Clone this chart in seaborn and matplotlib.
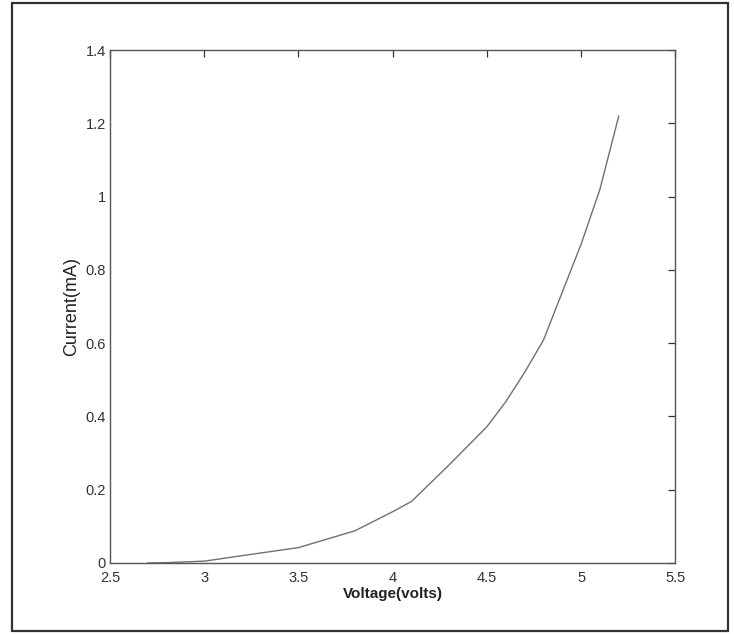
import matplotlib
matplotlib.use('Agg')
import matplotlib.pyplot as plt
import seaborn as sns
import pandas as pd
from matplotlib.patches import Rectangle

# Values
voltage = [2.7, 2.8, 3.0, 3.2, 3.5, 3.8, 4.0, 4.1, 4.3, 4.5, 4.6, 4.7, 4.8, 5.0, 5.1, 5.2]
current = [0.0, 0.001, 0.005, 0.02, 0.042, 0.088, 0.14, 0.168, 0.268, 0.372,
           0.44, 0.52, 0.608, 0.87, 1.02, 1.22]
x_ticks = [2.5, 3, 3.5, 4, 4.5, 5, 5.5]
y_ticks = [0, 0.2, 0.4, 0.6, 0.8, 1, 1.2, 1.4]
x_tick_labels = ['2.5', '3', '3.5', '4', '4.5', '5', '5.5']
y_tick_labels = ['0', '0.2', '0.4', '0.6', '0.8', '1', '1.2', '1.4']

df = pd.DataFrame({'Voltage': voltage, 'Current': current})

sns.set_style('white')
plt.rcParams['font.family'] = ['Liberation Sans', 'DejaVu Sans']

fig = plt.figure(figsize=(7.34, 6.34), dpi=100)
ax = fig.add_axes([0.150, 0.112, 0.770, 0.809])

sns.lineplot(data=df, x='Voltage', y='Current', color='#707070', linewidth=1.0, ax=ax)

ax.set_xlim(2.5, 5.5)
ax.set_ylim(0, 1.4)
ax.set_xticks(x_ticks)
ax.set_xticklabels(x_tick_labels)
ax.set_yticks(y_ticks)
ax.set_yticklabels(y_tick_labels)
ax.tick_params(direction='in', length=5, width=0.9, colors='#333333',
               labelsize=10.5, top=True, right=True)
ax.tick_params(axis='x', pad=6)
ax.tick_params(axis='y', pad=3)
for s in ax.spines.values():
    s.set_color('#555555')
    s.set_linewidth(1.0)

ax.set_xlabel('Voltage(volts)', fontsize=11, fontweight='bold', color='#222222', labelpad=1)
ax.set_ylabel('Current(mA)', fontsize=13, color='#222222', labelpad=4)

# outer frame around the whole figure
fig.patches.append(Rectangle((0.016, 0.004), 0.976, 0.991, transform=fig.transFigure,
                             fill=False, edgecolor='#333333', linewidth=1.6))

fig.savefig('out.png', dpi=100)
